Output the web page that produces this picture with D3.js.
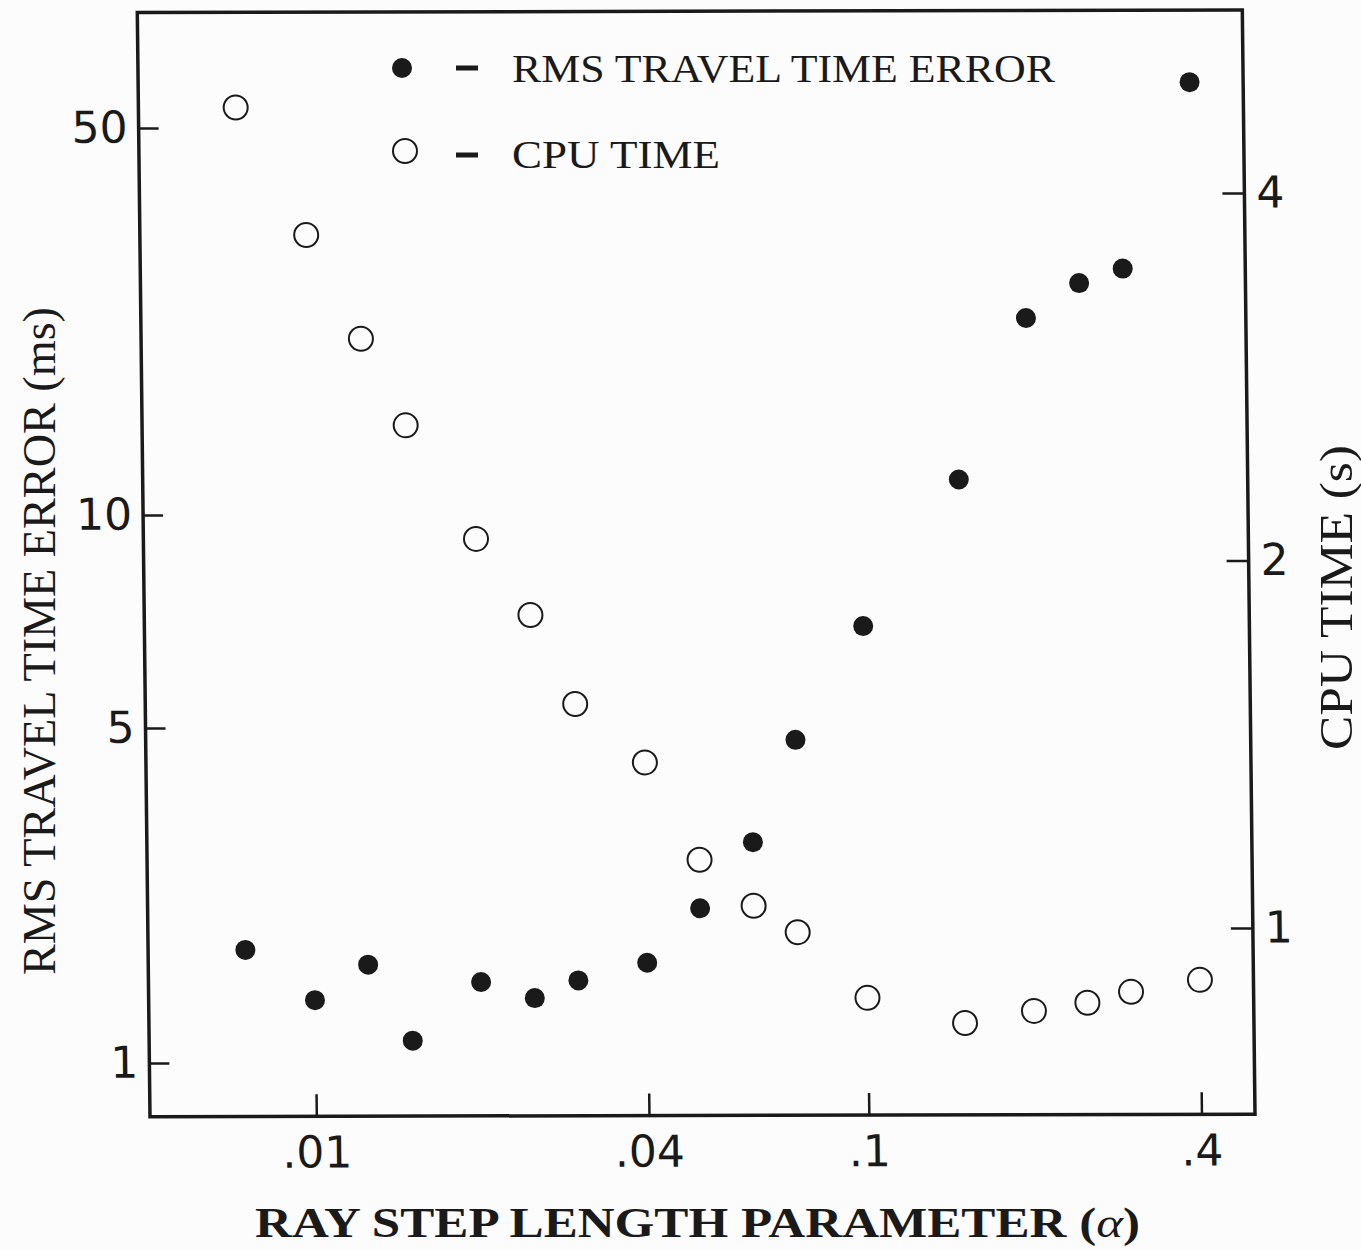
<!DOCTYPE html>
<html>
<head>
<meta charset="utf-8">
<script src="https://cdn.jsdelivr.net/npm/d3@7"></script>
<style>
  body { margin: 0; background: #fcfcfc; }
  svg { display: block; }
</style>
</head>
<body>
<svg width="1361" height="1250"></svg>
<script>
// values
const alpha = [0.0075, 0.01, 0.0125, 0.015, 0.02, 0.025, 0.03, 0.04, 0.05, 0.0625, 0.075, 0.1, 0.15, 0.2, 0.25, 0.3, 0.4];
const rms_error = [1.72, 1.35, 1.6, 1.11, 1.47, 1.36, 1.48, 1.61, 2.09, 2.87, 4.69, 6.93, 11.5, 22.5, 26.0, 27.6, 59.9];
const cpu_time = [4.72, 3.71, 3.05, 2.59, 2.09, 1.81, 1.53, 1.37, 1.14, 1.045, 0.994, 0.878, 0.837, 0.856, 0.869, 0.887, 0.907];

const x_ticks = [0.01, 0.04, 0.1, 0.4];
const x_tick_labels = [".01", ".04", ".1", ".4"];
const left_ticks = [1, 5, 10, 50];
const right_ticks = [1, 2, 4];

const ink = "#1a1a1a";
const boxL = 150, boxR = 1255, boxT = 12.5, boxB = 1116.7;

const xScale = d3.scaleLog().domain([0.005, 0.5]).range([boxL, boxR]);
// the printed left axis is not evenly spaced, so follow its ticks piece by piece
const yLeft = d3.scaleLog().domain([1, 5, 10, 50]).range([1063, 728, 515, 128]);
const yRight = d3.scaleLog().base(2).domain([1, 4]).range([930.5, 195.5]);

const svg = d3.select("svg");

// the scan is slightly sheared, so the plot box is too
const sx = 0.0115, sy = -0.0023;
const plot = svg
  .append("g")
  .attr("transform", `matrix(1,${sy},${sx},1,${-sx * boxB},${-sy * boxL})`);

plot
  .append("rect")
  .attr("x", boxL)
  .attr("y", boxT)
  .attr("width", boxR - boxL)
  .attr("height", boxB - boxT)
  .attr("fill", "none")
  .attr("stroke", ink)
  .attr("stroke-width", 3.5);

function styleAxis(g, size) {
  g.select(".domain").remove();
  g.selectAll(".tick line").attr("stroke", ink).attr("stroke-width", 2.5);
  g.selectAll(".tick text")
    .attr("fill", ink)
    .style("font-family", "'DejaVu Sans', sans-serif")
    .style("font-size", size + "px");
}

plot
  .append("g")
  .attr("transform", `translate(${boxL},0)`)
  .call(d3.axisLeft(yLeft).tickValues(left_ticks).tickSize(-20).tickPadding(11).tickFormat(d3.format("d")))
  .call((g) => styleAxis(g, 44));

plot
  .append("g")
  .attr("transform", `translate(${boxR},0)`)
  .call(d3.axisRight(yRight).tickValues(right_ticks).tickSize(-22).tickPadding(12).tickFormat(d3.format("d")))
  .call((g) => styleAxis(g, 44));

plot
  .append("g")
  .attr("transform", `translate(0,${boxB})`)
  .call(d3.axisBottom(xScale).tickValues(x_ticks).tickSize(-22).tickPadding(20).tickFormat((d, i) => x_tick_labels[i]))
  .call((g) => styleAxis(g, 44));

// CPU time, open circles
plot
  .selectAll(".cpu")
  .data(alpha)
  .enter()
  .append("circle")
  .attr("class", "cpu")
  .attr("cx", (d) => xScale(d))
  .attr("cy", (d, i) => yRight(cpu_time[i]))
  .attr("r", 12)
  .attr("fill", "none")
  .attr("stroke", ink)
  .attr("stroke-width", 2);

// rms error, filled dots
plot
  .selectAll(".rms")
  .data(alpha)
  .enter()
  .append("circle")
  .attr("class", "rms")
  .attr("cx", (d) => xScale(d))
  .attr("cy", (d, i) => yLeft(rms_error[i]))
  .attr("r", 10)
  .attr("fill", ink);

// legend
const legend = svg.append("g");
legend.append("circle").attr("cx", 402).attr("cy", 68).attr("r", 10).attr("fill", ink);
legend.append("circle").attr("cx", 405).attr("cy", 151).attr("r", 12)
  .attr("fill", "none").attr("stroke", ink).attr("stroke-width", 2);
[68, 155].forEach((y) => {
  legend.append("line").attr("x1", 456).attr("x2", 478).attr("y1", y).attr("y2", y)
    .attr("stroke", ink).attr("stroke-width", 5);
});

function serif(g, x, y, txt, size, len, rot) {
  return g
    .append("text")
    .attr("transform", `translate(${x},${y})` + (rot ? ` rotate(${rot})` : ""))
    .attr("fill", ink)
    .style("font-family", "'Liberation Serif', serif")
    .style("font-size", size + "px")
    .attr("textLength", len)
    .attr("lengthAdjust", "spacingAndGlyphs")
    .text(txt);
}

serif(legend, 512, 82, "RMS TRAVEL TIME ERROR", 40, 543);
serif(legend, 512, 168, "CPU TIME", 40, 208);

serif(svg, 55, 975, "RMS TRAVEL TIME ERROR (ms)", 46, 668, -90);
serif(svg, 1352, 750, "CPU TIME (s)", 46, 305, -90);

const xt = svg
  .append("text")
  .attr("x", 255)
  .attr("y", 1237)
  .attr("fill", ink)
  .style("font-family", "'Liberation Serif', serif")
  .style("font-size", "43px")
  .style("font-weight", "bold")
  .attr("textLength", 885)
  .attr("lengthAdjust", "spacingAndGlyphs");
xt.append("tspan").text("RAY STEP LENGTH PARAMETER (");
xt.append("tspan").style("font-style", "italic").style("font-weight", "normal").text("α");
xt.append("tspan").text(")");
</script>
</body>
</html>
